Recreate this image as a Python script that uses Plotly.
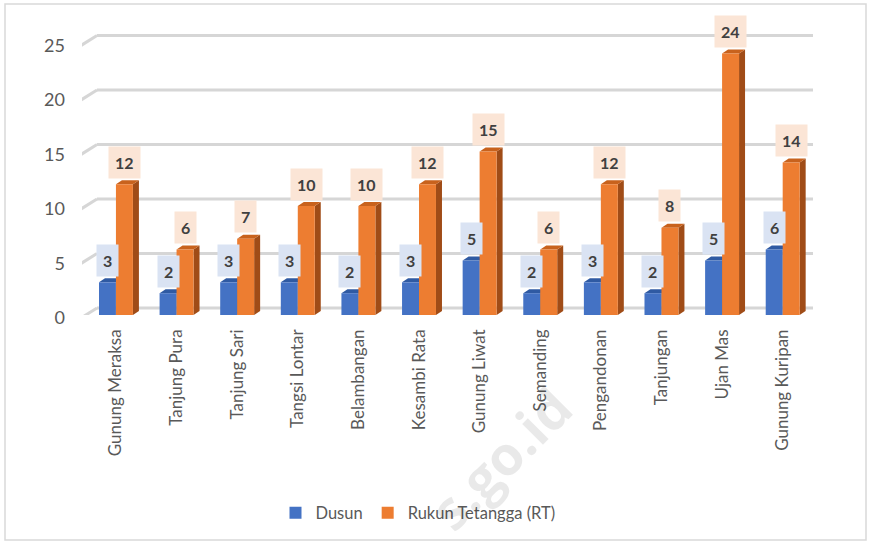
import plotly.graph_objects as go

# ---- data ----
categories = ["Gunung Meraksa", "Tanjung Pura", "Tanjung Sari", "Tangsi Lontar",
              "Belambangan", "Kesambi Rata", "Gunung Liwat", "Semanding",
              "Pengandonan", "Tanjungan", "Ujan Mas", "Gunung Kuripan"]
dusun = [3, 2, 3, 3, 2, 3, 5, 2, 3, 2, 5, 6]
rt = [12, 6, 7, 10, 10, 12, 15, 6, 12, 8, 24, 14]
series_names = ["Dusun", "Rukun Tetangga (RT)"]
y_ticks = [0, 5, 10, 15, 20, 25]
watermark = "s.go.id"

# ---- geometry / style ----
W, H = 870, 544
L_M, PLOT_W = 82, 731
T_M, B_M = 32, 229
PLOT_H = H - T_M - B_M
X0, X1 = -0.56, 11.5
PX_PER_X = PLOT_W / (X1 - X0)
PX_PER_Y = 10.9
Y_TOP = PLOT_H / PX_PER_Y
BAR_W = 0.28
DX = 6 / PX_PER_X      # depth in x (data units)
DY = 4 / PX_PER_Y      # depth in y (data units)

BLUE, BLUE_TOP, BLUE_SIDE = "#4472C4", "#2F5AA3", "#2B4F8C"
ORANGE, ORANGE_TOP, ORANGE_SIDE = "#ED7D31", "#C8621D", "#A04C17"
GRID = "#d6d6d6"
TXT = "#595959"
FONT = "Lato"

def px_to_paper(px, py):
    return (px - L_M) / PLOT_W, (H - B_M - py) / PLOT_H

idx = list(range(len(categories)))
fig = go.Figure()
fig.add_trace(go.Bar(x=idx, y=dusun, name=series_names[0], marker_color=BLUE,
                     width=BAR_W, offset=-BAR_W, marker_line_width=0))
fig.add_trace(go.Bar(x=idx, y=rt, name=series_names[1], marker_color=ORANGE,
                     width=BAR_W, offset=0, marker_line_width=0))

shapes = []
# back-wall gridlines and diagonals
for t in y_ticks:
    shapes.append(dict(type="line", layer="below", xref="x", xsizemode="pixel", xanchor=X0,
                       x0=15, x1=13 + PLOT_W, yref="y", ysizemode="pixel", yanchor=t,
                       y0=7, y1=7, line=dict(color=GRID, width=3)))
    shapes.append(dict(type="line", layer="below", xref="x", xsizemode="pixel", xanchor=X0,
                       x0=-1, x1=15, yref="y", ysizemode="pixel", yanchor=t,
                       y0=-3, y1=7, line=dict(color=GRID, width=3)))

def face_top(xl, xr, v):
    return f"M{xl},{v} L{xl+DX},{v+DY} L{xr+DX},{v+DY} L{xr},{v} Z"

def face_side(xr, v):
    return f"M{xr},0 L{xr+DX},{DY} L{xr+DX},{v+DY} L{xr},{v} Z"

for i in idx:
    shapes.append(dict(type="path", layer="below", xref="x", yref="y",
                       path=face_side(i, dusun[i]), fillcolor=BLUE_SIDE, line_width=0))
    shapes.append(dict(type="path", layer="below", xref="x", yref="y",
                       path=face_top(i - BAR_W, i, dusun[i]), fillcolor=BLUE_TOP, line_width=0))
    shapes.append(dict(type="path", layer="below", xref="x", yref="y",
                       path=face_side(i + BAR_W, rt[i]), fillcolor=ORANGE_SIDE, line_width=0))
    shapes.append(dict(type="path", layer="below", xref="x", yref="y",
                       path=face_top(i, i + BAR_W, rt[i]), fillcolor=ORANGE_TOP, line_width=0))

# chart border
bx0, by0 = px_to_paper(5, 540)
bx1, by1 = px_to_paper(866, 4)
shapes.append(dict(type="rect", xref="paper", yref="paper", x0=bx0, x1=bx1, y0=by0, y1=by1,
                   line=dict(color="#d9d9d9", width=1.5), layer="below"))

annotations = []
wx, wy = px_to_paper(500, 458)
annotations.append(dict(x=wx, y=wy, xref="paper", yref="paper", text=f"<b>{watermark}</b>",
                        showarrow=False, textangle=-45, xanchor="center", yanchor="middle",
                        font=dict(family="Open Sans", size=54, color="rgba(0,0,0,0.085)")))
for i in idx:
    annotations.append(dict(x=i - BAR_W / 2, y=dusun[i], xref="x", yref="y",
                            text=f"<b>{dusun[i]}</b>", showarrow=False, yshift=22,
                            bgcolor="#DAE3F3", borderpad=6,
                            font=dict(family=FONT, size=16, color="#404040")))
    annotations.append(dict(x=i + BAR_W / 2, y=rt[i], xref="x", yref="y",
                            text=f"<b>{rt[i]}</b>", showarrow=False, yshift=22,
                            bgcolor="#FBE5D6", borderpad=6,
                            font=dict(family=FONT, size=16, color="#404040")))

fig.update_layout(
    width=W, height=H,
    margin=dict(l=L_M, r=W - L_M - PLOT_W, t=T_M, b=B_M),
    paper_bgcolor="white", plot_bgcolor="rgba(0,0,0,0)",
    barmode="overlay",
    font=dict(family=FONT, size=17, color=TXT),
    xaxis=dict(range=[X0, X1], tickmode="array", tickvals=idx, ticktext=categories,
               tickangle=-90, showgrid=False, zeroline=False, showline=False,
               ticks="", ticklabelstandoff=10,
               tickfont=dict(family=FONT, size=17, color=TXT)),
    yaxis=dict(range=[0, Y_TOP], tickmode="array", tickvals=y_ticks,
               showgrid=False, zeroline=False, showline=False, ticks="",
               ticklabelstandoff=16, ticklabelshift=3,
               tickfont=dict(family=FONT, size=18, color=TXT)),
    legend=dict(orientation="h", x=(418 - L_M) / PLOT_W, xanchor="center",
                y=(H - B_M - 513) / PLOT_H, yanchor="middle",
                font=dict(family=FONT, size=16.5, color=TXT), bgcolor="rgba(0,0,0,0)"),
    shapes=shapes, annotations=annotations,
)

fig.write_html("out.html", config={"displayModeBar": False},
               post_script="document.body.style.margin='0';")
